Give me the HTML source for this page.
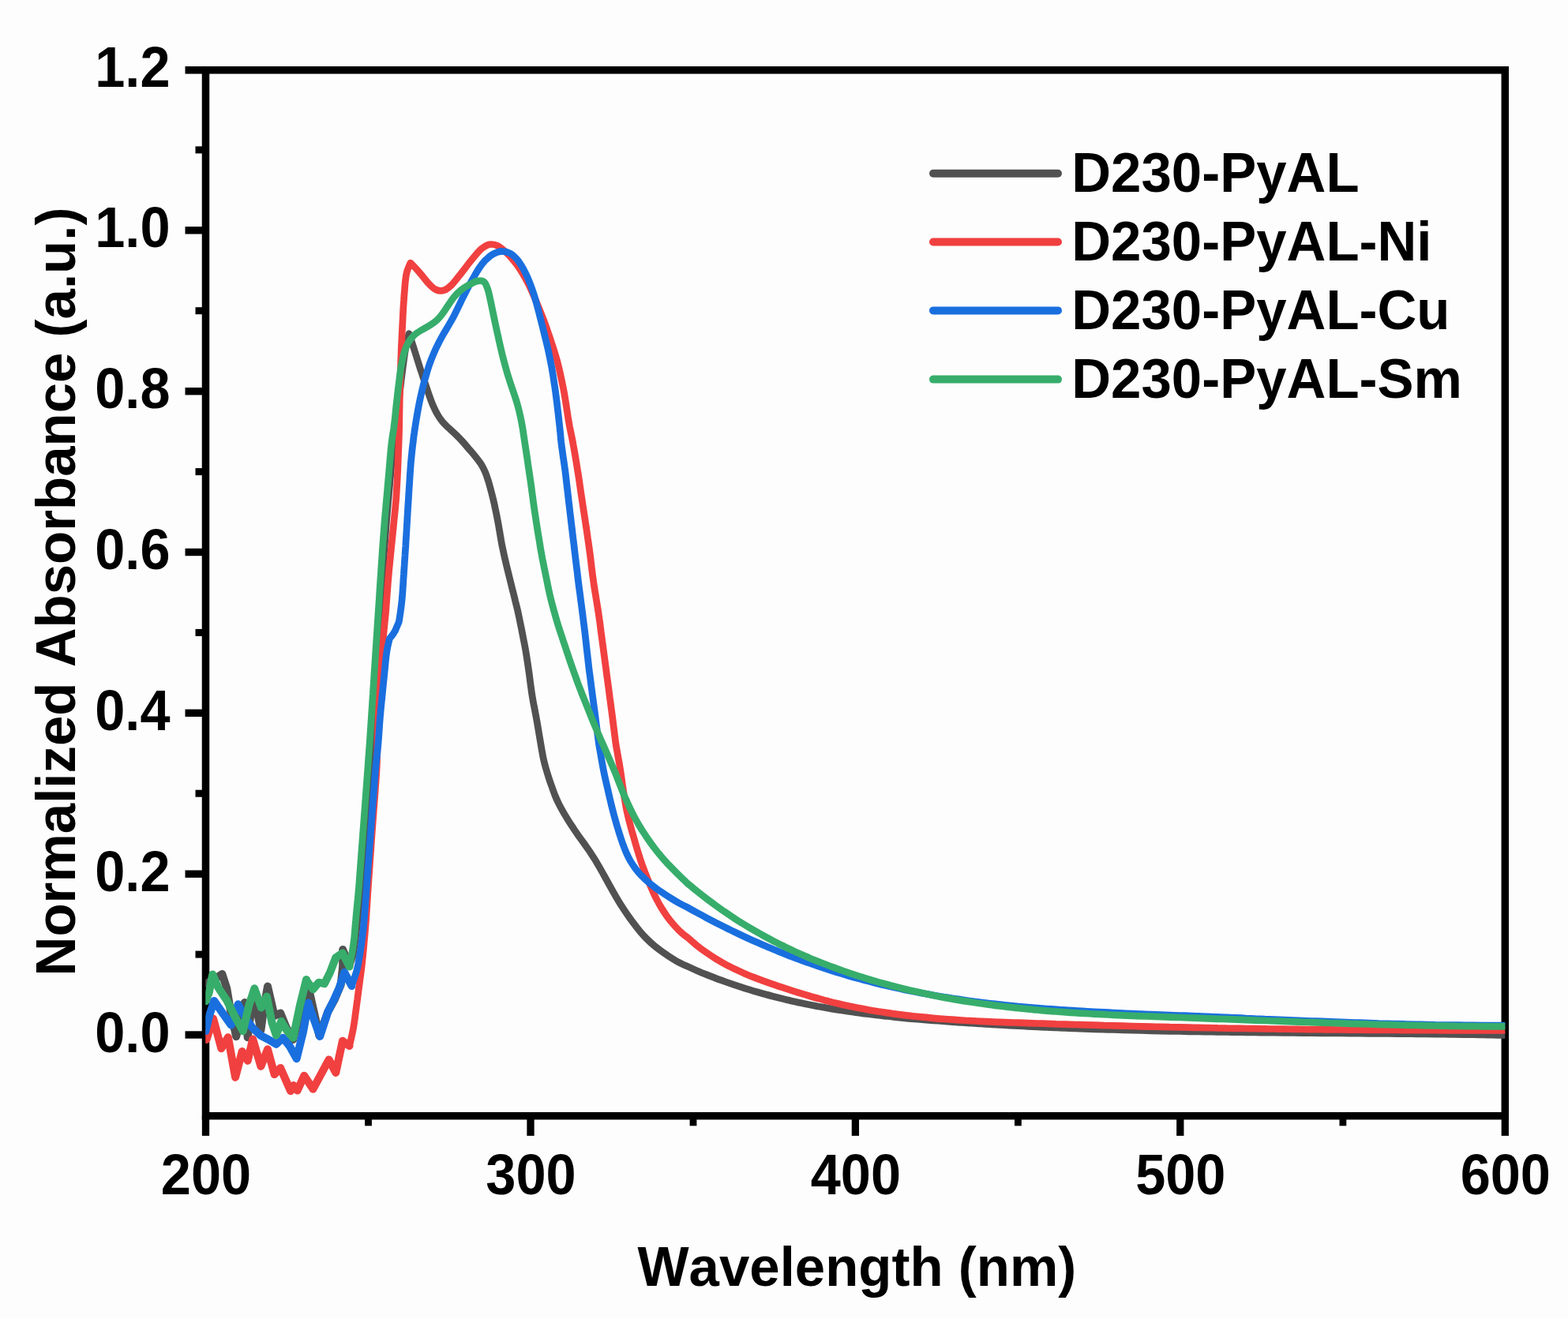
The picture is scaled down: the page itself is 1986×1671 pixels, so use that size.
<!DOCTYPE html>
<html lang="en"><head><meta charset="utf-8"><title>Normalized Absorbance vs Wavelength</title>
<style>html,body{margin:0;padding:0;background:#fdfdfd;}body{width:1986px;height:1671px;overflow:hidden;}svg{display:block;}text{font-family:'Liberation Sans', sans-serif;font-weight:bold;fill:#000;font-kerning:none;}</style></head><body>
<svg width="1986" height="1671" viewBox="0 0 1986 1671" role="img" aria-label="Normalized absorbance versus wavelength for D230-PyAL and its Ni, Cu and Sm complexes">
<rect x="0" y="0" width="1986" height="1671" fill="#fdfdfd"/>
<g stroke="#000" stroke-width="9.5" fill="none" stroke-linecap="butt">
<rect x="260.5" y="88.8" width="1645.8" height="1324.9"/>
<line x1="234.5" y1="1311.0" x2="260.5" y2="1311.0" stroke-width="9.4"/>
<line x1="234.5" y1="1107.2" x2="260.5" y2="1107.2" stroke-width="9.4"/>
<line x1="234.5" y1="903.3" x2="260.5" y2="903.3" stroke-width="9.4"/>
<line x1="234.5" y1="699.5" x2="260.5" y2="699.5" stroke-width="9.4"/>
<line x1="234.5" y1="495.7" x2="260.5" y2="495.7" stroke-width="9.4"/>
<line x1="234.5" y1="291.8" x2="260.5" y2="291.8" stroke-width="9.4"/>
<line x1="234.5" y1="88.8" x2="260.5" y2="88.8"/>
<line x1="247.5" y1="1209.1" x2="260.5" y2="1209.1" stroke-width="9"/>
<line x1="247.5" y1="1005.2" x2="260.5" y2="1005.2" stroke-width="9"/>
<line x1="247.5" y1="801.4" x2="260.5" y2="801.4" stroke-width="9"/>
<line x1="247.5" y1="597.6" x2="260.5" y2="597.6" stroke-width="9"/>
<line x1="247.5" y1="393.7" x2="260.5" y2="393.7" stroke-width="9"/>
<line x1="247.5" y1="189.9" x2="260.5" y2="189.9" stroke-width="9"/>
<line x1="260.5" y1="1413.7" x2="260.5" y2="1438.9" stroke-width="9.3"/>
<line x1="672.0" y1="1413.7" x2="672.0" y2="1438.9" stroke-width="9.3"/>
<line x1="1083.4" y1="1413.7" x2="1083.4" y2="1438.9" stroke-width="9.3"/>
<line x1="1494.8" y1="1413.7" x2="1494.8" y2="1438.9" stroke-width="9.3"/>
<line x1="1906.3" y1="1413.7" x2="1906.3" y2="1438.9" stroke-width="9.3"/>
<line x1="466.5" y1="1413.7" x2="466.5" y2="1426.3" stroke-width="8.8"/>
<line x1="878.0" y1="1413.7" x2="878.0" y2="1426.3" stroke-width="8.8"/>
<line x1="1289.4" y1="1413.7" x2="1289.4" y2="1426.3" stroke-width="8.8"/>
<line x1="1700.9" y1="1413.7" x2="1700.9" y2="1426.3" stroke-width="8.8"/>
</g>
<defs><clipPath id="plotclip"><rect x="260.5" y="88.8" width="1645.8" height="1324.9"/></clipPath></defs>
<g clip-path="url(#plotclip)" fill="none" stroke-linejoin="round" stroke-linecap="round" stroke-width="8.7">
<path stroke="#515151" d="M261.5 1245.8L273.3 1239.4L281.4 1234.0L287.3 1252.3L292.7 1284.6L299.2 1313.2L304.5 1290.0L309.9 1270.1L313.7 1314.2L317.5 1284.6L322.6 1265.8L330.4 1305.1L334.7 1273.8L339.0 1249.6L347.6 1286.8L355.2 1283.5L362.7 1301.8L371.3 1316.9L382.1 1276.0L392.2 1257.6L404.4 1312.2L415.2 1282.1L423.8 1266.3L431.7 1247.6L434.2 1224.6L434.2 1203.1L442.5 1223.2C443.2 1221.3 445.6 1215.9 446.6 1212.1C447.7 1208.3 448.1 1204.3 448.7 1200.4C449.3 1196.5 449.8 1192.5 450.3 1188.5C450.8 1184.5 451.3 1180.6 451.8 1176.6C452.2 1172.6 452.6 1168.6 453.0 1164.7C453.4 1160.7 453.8 1156.7 454.2 1152.7C454.6 1148.7 455.0 1144.8 455.4 1140.8C455.8 1136.8 456.2 1132.8 456.5 1128.8C456.8 1124.8 457.1 1120.8 457.4 1116.9C457.7 1112.9 458.0 1108.9 458.3 1104.9C458.6 1100.9 458.9 1096.9 459.2 1092.9C459.5 1088.9 459.8 1084.9 460.1 1081.0C460.4 1077.0 460.7 1073.0 461.0 1069.0C461.3 1065.0 461.6 1061.0 461.9 1057.0C462.2 1053.0 462.5 1049.0 462.8 1045.1C463.1 1041.1 463.4 1037.1 463.7 1033.1C464.0 1029.1 464.3 1025.1 464.6 1021.1C464.9 1017.1 465.2 1013.1 465.5 1009.2C465.8 1005.2 466.1 1001.2 466.4 997.2C466.7 993.2 467.0 989.2 467.3 985.2C467.6 981.2 467.9 977.2 468.2 973.3C468.5 969.3 468.8 965.3 469.1 961.3C469.4 957.3 469.7 953.3 470.0 949.3C470.3 945.3 470.6 941.3 470.9 937.4C471.1 933.4 471.4 929.4 471.7 925.4C471.9 921.4 472.2 917.4 472.4 913.4C472.7 909.4 473.0 905.4 473.2 901.4C473.5 897.4 473.8 893.5 474.0 889.5C474.3 885.5 474.5 881.5 474.8 877.5C475.1 873.5 475.3 869.5 475.6 865.5C475.9 861.5 476.1 857.5 476.4 853.5C476.6 849.5 476.9 845.6 477.2 841.6C477.4 837.6 477.7 833.6 478.0 829.6C478.2 825.6 478.5 821.6 478.8 817.6C479.0 813.6 479.3 809.6 479.5 805.6C479.8 801.7 480.1 797.7 480.3 793.7C480.6 789.7 480.9 785.7 481.1 781.7C481.4 777.7 481.6 773.7 481.9 769.7C482.2 765.7 482.4 761.7 482.7 757.7C483.0 753.8 483.2 749.8 483.5 745.8C483.7 741.8 484.0 737.8 484.3 733.8C484.5 729.8 484.8 725.8 485.1 721.8C485.3 717.8 485.6 713.8 485.9 709.9C486.1 705.9 486.4 701.9 486.7 697.9C487.0 693.9 487.3 689.9 487.6 685.9C487.9 681.9 488.2 677.9 488.5 673.9C488.8 670.0 489.1 666.0 489.4 662.0C489.7 658.0 490.0 654.0 490.4 650.0C490.7 646.0 491.1 642.1 491.4 638.1C491.8 634.1 492.2 630.1 492.5 626.1C492.9 622.1 493.2 618.2 493.6 614.2C493.9 610.2 494.3 606.2 494.6 602.2C495.0 598.2 495.3 594.2 495.7 590.3C496.0 586.3 496.3 582.3 496.7 578.3C497.0 574.3 497.3 570.3 497.8 566.4C498.2 562.4 498.8 558.4 499.3 554.5C499.9 550.5 500.8 546.6 501.3 542.7C501.9 538.7 502.4 534.7 502.9 530.8C503.3 526.8 503.7 522.8 504.1 518.8C504.5 514.8 504.9 510.9 505.3 506.9C505.7 502.9 506.2 498.9 506.6 495.0C507.1 491.0 507.6 487.0 508.0 483.0C508.5 479.1 509.0 475.1 509.5 471.1C510.0 467.2 510.5 463.2 511.1 459.2C511.6 455.3 512.1 451.3 512.7 447.4C513.4 443.4 514.0 439.2 514.8 435.6C515.5 431.9 516.7 427.6 517.3 425.5C517.8 423.3 518.0 423.2 518.1 422.7C518.7 424.6 520.6 430.3 521.9 434.1C523.1 437.9 524.3 441.7 525.5 445.5C526.7 449.4 527.9 453.2 529.1 457.0C530.3 460.8 531.5 464.6 532.7 468.4C534.0 472.2 535.3 476.0 536.5 479.8C537.8 483.6 539.0 487.4 540.3 491.2C541.6 495.0 542.8 498.8 544.2 502.6C545.5 506.3 546.9 510.1 548.5 513.7C550.1 517.4 551.8 521.1 553.8 524.5C555.7 527.9 557.9 531.3 560.4 534.3C562.9 537.4 566.0 540.0 568.8 542.7C571.7 545.5 574.9 548.0 577.7 550.8C580.6 553.6 583.3 556.5 586.0 559.5C588.7 562.4 591.2 565.5 593.8 568.6C596.4 571.6 599.1 574.6 601.6 577.7C604.1 580.8 606.7 583.9 608.8 587.2C610.9 590.6 612.8 594.1 614.4 597.7C616.0 601.3 617.1 605.2 618.4 609.0C619.6 612.8 620.6 616.7 621.6 620.5C622.7 624.4 623.6 628.3 624.6 632.2C625.5 636.0 626.4 639.9 627.2 643.9C628.1 647.8 628.8 651.7 629.6 655.6C630.4 659.5 631.1 663.5 631.8 667.4C632.5 671.4 633.1 675.3 633.8 679.2C634.5 683.2 635.1 687.1 635.9 691.1C636.7 695.0 637.6 698.9 638.4 702.8C639.3 706.7 640.2 710.6 641.1 714.5C642.0 718.4 643.0 722.3 643.9 726.1C644.9 730.0 645.8 733.9 646.8 737.8C647.8 741.7 648.7 745.6 649.7 749.4C650.7 753.3 651.7 757.2 652.6 761.1C653.6 765.0 654.6 768.8 655.5 772.7C656.4 776.6 657.2 780.5 658.0 784.5C658.8 788.4 659.6 792.3 660.4 796.2C661.2 800.1 661.9 804.1 662.7 808.0C663.5 811.9 664.3 815.8 665.0 819.8C665.7 823.7 666.4 827.6 667.0 831.6C667.6 835.5 668.2 839.5 668.8 843.5C669.4 847.4 669.9 851.4 670.5 855.3C671.0 859.3 671.5 863.3 672.0 867.2C672.6 871.2 673.1 875.2 673.7 879.1C674.3 883.1 675.0 887.0 675.7 890.9C676.5 894.9 677.3 898.8 678.0 902.7C678.8 906.7 679.5 910.6 680.2 914.5C680.9 918.5 681.5 922.4 682.2 926.4C682.8 930.3 683.5 934.3 684.2 938.2C684.8 942.1 685.5 946.1 686.2 950.0C686.9 954.0 687.5 957.9 688.4 961.8C689.3 965.7 690.3 969.6 691.4 973.4C692.5 977.2 693.7 981.1 694.9 984.9C696.1 988.7 697.4 992.5 698.8 996.2C700.1 1000.0 701.4 1003.8 702.9 1007.5C704.4 1011.2 706.0 1014.8 707.8 1018.4C709.6 1022.0 711.5 1025.5 713.5 1028.9C715.5 1032.4 717.6 1035.8 719.7 1039.2C721.8 1042.6 724.0 1045.9 726.3 1049.3C728.5 1052.6 730.7 1055.9 733.0 1059.2C735.3 1062.4 737.7 1065.7 740.0 1068.9C742.3 1072.2 744.7 1075.4 746.9 1078.7C749.1 1082.1 751.3 1085.4 753.4 1088.8C755.5 1092.2 757.5 1095.7 759.5 1099.1C761.5 1102.6 763.5 1106.1 765.4 1109.6C767.4 1113.1 769.3 1116.6 771.2 1120.1C773.2 1123.6 775.1 1127.1 777.1 1130.6C779.0 1134.0 781.0 1137.5 783.1 1141.0C785.1 1144.4 787.3 1147.8 789.5 1151.1C791.6 1154.4 793.9 1157.7 796.2 1161.0C798.5 1164.3 800.9 1167.5 803.3 1170.7C805.7 1173.9 808.1 1177.1 810.7 1180.1C813.3 1183.2 815.9 1186.2 818.8 1189.0C821.6 1191.8 824.5 1194.5 827.6 1197.1C830.6 1199.7 833.8 1202.1 837.0 1204.5C840.2 1206.9 843.5 1209.1 846.8 1211.3C850.2 1213.5 853.6 1215.8 857.0 1217.7C860.3 1219.6 864.7 1221.6 866.9 1222.7C869.0 1223.7 869.5 1223.7 870.0 1223.9C872.0 1224.8 878.0 1227.6 882.0 1229.4C886.0 1231.1 890.0 1232.8 894.0 1234.4C898.0 1236.0 902.0 1237.6 906.0 1239.1C910.0 1240.6 914.0 1242.1 918.0 1243.5C922.0 1244.9 926.0 1246.3 930.0 1247.7C934.0 1249.0 938.0 1250.3 942.0 1251.6C946.0 1252.9 950.0 1254.1 954.0 1255.3C958.0 1256.5 962.0 1257.6 966.0 1258.8C970.0 1259.9 974.0 1261.0 978.0 1262.0C982.0 1263.1 986.0 1264.1 990.0 1265.0C994.0 1266.0 998.0 1267.0 1002.0 1267.9C1006.0 1268.8 1010.0 1269.7 1014.0 1270.5C1018.0 1271.4 1022.0 1272.2 1026.0 1273.0C1030.0 1273.8 1034.0 1274.6 1038.0 1275.3C1042.0 1276.0 1046.0 1276.7 1050.0 1277.4C1054.0 1278.1 1058.0 1278.8 1062.0 1279.4C1066.0 1280.0 1070.0 1280.7 1074.0 1281.2C1078.0 1281.8 1082.0 1282.4 1086.0 1282.9C1090.0 1283.5 1094.0 1284.0 1098.0 1284.5C1102.0 1285.0 1106.0 1285.5 1110.0 1286.0C1114.0 1286.5 1118.0 1286.9 1122.0 1287.3C1126.0 1287.8 1130.0 1288.2 1134.0 1288.6C1138.0 1289.0 1142.0 1289.4 1146.0 1289.8C1150.0 1290.1 1154.0 1290.5 1158.0 1290.9C1162.0 1291.2 1166.0 1291.5 1170.0 1291.9C1174.0 1292.2 1178.0 1292.5 1182.0 1292.8C1186.0 1293.1 1190.0 1293.4 1194.0 1293.7C1198.0 1294.0 1202.0 1294.3 1206.0 1294.6C1210.0 1294.9 1214.0 1295.2 1218.0 1295.4C1222.0 1295.7 1226.0 1296.0 1230.0 1296.2C1234.0 1296.5 1238.0 1296.8 1242.0 1297.0C1246.0 1297.2 1250.0 1297.5 1254.0 1297.7C1258.0 1298.0 1262.0 1298.2 1266.0 1298.4C1270.0 1298.6 1274.0 1298.9 1278.0 1299.1C1282.0 1299.3 1286.0 1299.5 1290.0 1299.7C1294.0 1299.9 1298.0 1300.1 1302.0 1300.3C1306.0 1300.5 1310.0 1300.7 1314.0 1300.9C1318.0 1301.1 1322.0 1301.3 1326.0 1301.4C1330.0 1301.6 1334.0 1301.8 1338.0 1301.9C1342.0 1302.1 1346.0 1302.3 1350.0 1302.4C1354.0 1302.6 1358.0 1302.8 1362.0 1302.9C1366.0 1303.1 1370.0 1303.2 1374.0 1303.3C1378.0 1303.5 1382.0 1303.6 1386.0 1303.8C1390.0 1303.9 1394.0 1304.0 1398.0 1304.1C1402.0 1304.3 1406.0 1304.4 1410.0 1304.5C1414.0 1304.6 1418.0 1304.7 1422.0 1304.9C1426.0 1305.0 1430.0 1305.1 1434.0 1305.2C1438.0 1305.3 1442.0 1305.4 1446.0 1305.5C1450.0 1305.6 1454.0 1305.7 1458.0 1305.8C1462.0 1305.9 1466.0 1306.0 1470.0 1306.1C1474.0 1306.1 1478.0 1306.2 1482.0 1306.3C1486.0 1306.4 1490.0 1306.5 1494.0 1306.5C1498.0 1306.6 1502.0 1306.7 1506.0 1306.8C1510.0 1306.8 1514.0 1306.9 1518.0 1307.0C1522.0 1307.0 1526.0 1307.1 1530.0 1307.2C1534.0 1307.2 1538.0 1307.3 1542.0 1307.3C1546.0 1307.4 1550.0 1307.5 1554.0 1307.5C1558.0 1307.6 1562.0 1307.6 1566.0 1307.7C1570.0 1307.7 1574.0 1307.8 1578.0 1307.8C1582.0 1307.9 1586.0 1307.9 1590.0 1308.0C1594.0 1308.0 1598.0 1308.1 1602.0 1308.1C1606.0 1308.1 1610.0 1308.2 1614.0 1308.2C1618.0 1308.3 1622.0 1308.3 1626.0 1308.3C1630.0 1308.4 1634.0 1308.4 1638.0 1308.5C1642.0 1308.5 1646.0 1308.5 1650.0 1308.6C1654.0 1308.6 1658.0 1308.6 1662.0 1308.7C1666.0 1308.7 1670.0 1308.7 1674.0 1308.8C1678.0 1308.8 1682.0 1308.8 1686.0 1308.9C1690.0 1308.9 1694.0 1308.9 1698.0 1309.0C1702.0 1309.0 1706.0 1309.0 1710.0 1309.1C1714.0 1309.1 1718.0 1309.1 1722.0 1309.2C1726.0 1309.2 1730.0 1309.2 1734.0 1309.3C1738.0 1309.3 1742.0 1309.3 1746.0 1309.4C1750.0 1309.4 1754.0 1309.4 1758.0 1309.5C1762.0 1309.5 1766.0 1309.5 1770.0 1309.6C1774.0 1309.6 1778.0 1309.7 1782.0 1309.7C1786.0 1309.7 1790.0 1309.8 1794.0 1309.8C1798.0 1309.9 1802.0 1309.9 1806.0 1310.0C1810.0 1310.0 1814.0 1310.0 1818.0 1310.1C1822.0 1310.1 1826.0 1310.2 1830.0 1310.2C1834.0 1310.3 1838.0 1310.3 1842.0 1310.4C1846.0 1310.4 1850.0 1310.5 1854.0 1310.6C1858.0 1310.6 1862.0 1310.7 1866.0 1310.7C1870.0 1310.8 1874.0 1310.9 1878.0 1310.9C1882.0 1311.0 1886.0 1311.1 1890.0 1311.1C1894.0 1311.2 1898.7 1311.3 1902.0 1311.3C1905.3 1311.4 1908.7 1311.5 1910.0 1311.5"/>
<path stroke="#515151" stroke-width="10.0" d="M261.5 1245.8L273.3 1239.4L281.4 1234.0L287.3 1252.3L292.7 1284.6L299.2 1313.2L304.5 1290.0L309.9 1270.1L313.7 1314.2L317.5 1284.6L322.6 1265.8L330.4 1305.1L334.7 1273.8L339.0 1249.6L347.6 1286.8L355.2 1283.5L362.7 1301.8L371.3 1316.9L382.1 1276.0L392.2 1257.6L404.4 1312.2L415.2 1282.1L423.8 1266.3L431.7 1247.6L434.2 1224.6L434.2 1203.1L442.5 1223.2"/>
<path stroke="#F14040" d="M261.5 1316.9L270.1 1290.5L280.3 1328.2L288.9 1314.2L298.1 1364.8L306.7 1332.0L313.7 1343.8L320.2 1316.4L330.4 1350.8L339.0 1329.3L347.6 1361.1L355.2 1353.0L368.1 1382.1L371.8 1375.1L376.7 1381.5L385.3 1362.7L396.5 1379.7L416.6 1342.4L425.3 1358.9L433.9 1318.7L442.5 1325.1C443.0 1323.2 444.4 1317.4 445.3 1313.5C446.1 1309.6 447.0 1305.7 447.7 1301.7C448.4 1297.8 448.9 1293.8 449.5 1289.9C450.0 1285.9 450.5 1281.9 451.1 1278.0C451.6 1274.0 452.1 1270.0 452.7 1266.1C453.2 1262.1 453.7 1258.1 454.2 1254.2C454.8 1250.2 455.3 1246.2 455.8 1242.3C456.3 1238.3 456.9 1234.3 457.4 1230.4C457.9 1226.4 458.4 1222.4 458.8 1218.5C459.2 1214.5 459.6 1210.5 460.0 1206.5C460.4 1202.5 460.8 1198.6 461.1 1194.6C461.5 1190.6 461.8 1186.6 462.2 1182.6C462.5 1178.6 462.9 1174.7 463.2 1170.7C463.5 1166.7 463.8 1162.7 464.1 1158.7C464.3 1154.7 464.6 1150.7 464.9 1146.7C465.1 1142.7 465.4 1138.7 465.6 1134.8C465.9 1130.8 466.2 1126.8 466.4 1122.8C466.7 1118.8 467.0 1114.8 467.2 1110.8C467.5 1106.8 467.8 1102.8 468.1 1098.8C468.4 1094.8 468.6 1090.9 468.9 1086.9C469.2 1082.9 469.5 1078.9 469.8 1074.9C470.0 1070.9 470.3 1066.9 470.6 1062.9C470.9 1058.9 471.2 1055.0 471.5 1051.0C471.8 1047.0 472.1 1043.0 472.4 1039.0C472.7 1035.0 473.0 1031.0 473.3 1027.0C473.6 1023.0 473.9 1019.1 474.2 1015.1C474.5 1011.1 474.8 1007.1 475.1 1003.1C475.4 999.1 475.7 995.1 476.0 991.1C476.3 987.1 476.6 983.2 476.8 979.2C477.1 975.2 477.2 971.2 477.4 967.2C477.5 963.2 477.6 959.2 477.7 955.2C477.8 951.2 477.9 947.2 478.0 943.2C478.1 939.2 478.2 935.2 478.3 931.2C478.5 927.2 478.6 923.2 478.7 919.2C478.8 915.2 478.9 911.2 479.0 907.2C479.1 903.2 479.2 899.2 479.3 895.2C479.4 891.2 479.5 887.2 479.6 883.2C479.7 879.2 479.8 875.2 480.0 871.2C480.1 867.2 480.2 863.2 480.5 859.2C480.7 855.2 481.1 851.3 481.5 847.3C481.8 843.3 482.3 839.3 482.7 835.3C483.1 831.4 483.5 827.4 483.9 823.4C484.3 819.4 484.6 815.4 485.0 811.5C485.4 807.5 485.8 803.5 486.2 799.5C486.6 795.5 487.0 791.6 487.4 787.6C487.8 783.6 488.2 779.6 488.6 775.6C488.9 771.6 489.2 767.7 489.5 763.7C489.8 759.7 490.1 755.7 490.4 751.7C490.7 747.7 491.0 743.7 491.3 739.7C491.6 735.7 491.9 731.8 492.3 727.8C492.6 723.8 493.0 719.8 493.4 715.8C493.8 711.8 494.2 707.9 494.6 703.9C495.0 699.9 495.4 695.9 495.8 691.9C496.2 688.0 496.6 684.0 497.0 680.0C497.4 676.0 497.8 672.0 498.2 668.1C498.6 664.1 499.0 660.1 499.4 656.1C499.8 652.1 500.2 648.2 500.6 644.2C501.0 640.2 501.3 636.2 501.7 632.2C502.0 628.2 502.2 624.3 502.4 620.3C502.7 616.3 502.9 612.3 503.1 608.3C503.3 604.3 503.5 600.3 503.7 596.3C503.9 592.3 504.0 588.3 504.2 584.3C504.3 580.3 504.5 576.3 504.6 572.3C504.8 568.3 505.0 564.3 505.1 560.3C505.2 556.3 505.4 552.3 505.5 548.3C505.6 544.3 505.7 540.3 505.7 536.3C505.8 532.3 505.9 528.3 505.9 524.3C506.0 520.3 506.1 516.3 506.1 512.3C506.2 508.3 506.3 504.3 506.4 500.3C506.4 496.3 506.6 492.3 506.7 488.3C506.8 484.3 506.9 480.3 507.1 476.3C507.2 472.4 507.3 468.4 507.5 464.4C507.6 460.4 507.7 456.4 507.9 452.4C508.0 448.4 508.2 444.4 508.3 440.4C508.5 436.4 508.7 432.4 508.9 428.4C509.1 424.4 509.3 420.4 509.5 416.4C509.7 412.4 509.9 408.4 510.1 404.4C510.3 400.4 510.5 396.4 510.7 392.4C510.9 388.4 511.2 384.4 511.5 380.5C511.7 376.5 512.0 372.5 512.4 368.5C512.7 364.5 512.9 360.5 513.4 356.5C513.9 352.6 514.2 348.6 515.3 344.7C516.4 340.8 519.1 334.9 519.9 333.0C521.3 334.4 525.5 338.6 528.2 341.6C530.9 344.6 533.3 347.7 535.9 350.8C538.5 353.8 540.8 357.2 543.6 359.9C546.3 362.7 549.3 365.8 552.5 367.1C555.7 368.4 559.4 368.7 562.6 367.7C565.9 366.7 569.0 363.8 571.8 361.2C574.6 358.6 577.0 355.2 579.5 352.1C582.0 349.0 584.5 345.8 586.9 342.6C589.3 339.5 591.7 336.3 594.2 333.1C596.7 330.0 599.1 326.8 601.8 323.8C604.4 320.8 607.0 317.5 609.9 315.2C612.9 312.8 616.3 310.4 619.6 309.7C623.0 309.1 626.7 309.9 630.0 311.3C633.3 312.7 636.4 315.8 639.4 318.3C642.3 320.9 645.1 323.9 647.8 326.8C650.4 329.8 653.0 332.9 655.3 336.1C657.7 339.4 659.8 342.7 661.9 346.2C663.9 349.6 665.8 353.1 667.7 356.6C669.5 360.2 671.3 363.8 672.9 367.4C674.6 371.1 676.1 374.8 677.7 378.4C679.2 382.1 680.7 385.8 682.2 389.5C683.7 393.2 685.3 396.9 686.7 400.7C688.2 404.4 689.6 408.1 691.0 411.9C692.4 415.6 693.6 419.4 694.9 423.2C696.2 427.0 697.5 430.8 698.7 434.6C700.0 438.4 701.2 442.2 702.4 446.0C703.5 449.8 704.7 453.7 705.8 457.5C706.8 461.4 707.8 465.3 708.7 469.2C709.6 473.1 710.4 477.0 711.2 480.9C712.0 484.8 712.9 488.7 713.6 492.6C714.4 496.6 715.1 500.5 715.7 504.4C716.4 508.4 717.0 512.4 717.6 516.3C718.2 520.3 718.8 524.2 719.4 528.2C720.1 532.1 720.7 536.1 721.4 540.0C722.2 543.9 723.0 547.8 723.8 551.7C724.6 555.7 725.4 559.6 726.1 563.5C726.9 567.4 727.5 571.4 728.2 575.3C728.9 579.3 729.5 583.2 730.2 587.2C730.8 591.1 731.4 595.1 732.1 599.0C732.7 603.0 733.3 606.9 733.9 610.9C734.5 614.8 735.0 618.8 735.6 622.8C736.2 626.7 736.8 630.7 737.4 634.6C738.0 638.6 738.6 642.5 739.2 646.5C739.8 650.4 740.4 654.4 741.0 658.4C741.6 662.3 742.2 666.3 742.8 670.2C743.4 674.2 744.0 678.1 744.5 682.1C745.1 686.0 745.7 690.0 746.2 694.0C746.8 697.9 747.3 701.9 747.8 705.9C748.3 709.8 748.7 713.8 749.2 717.8C749.7 721.7 750.2 725.7 750.7 729.7C751.3 733.6 751.8 737.6 752.4 741.6C753.0 745.5 753.6 749.5 754.3 753.4C754.9 757.4 755.6 761.3 756.2 765.3C756.9 769.2 757.5 773.2 758.1 777.1C758.7 781.1 759.2 785.0 759.8 789.0C760.3 793.0 760.8 796.9 761.3 800.9C761.9 804.9 762.4 808.8 762.9 812.8C763.5 816.7 764.0 820.7 764.5 824.7C765.0 828.6 765.6 832.6 766.1 836.6C766.6 840.5 767.2 844.5 767.7 848.5C768.2 852.4 768.7 856.4 769.3 860.4C769.8 864.3 770.3 868.3 770.9 872.3C771.4 876.2 771.9 880.2 772.4 884.1C773.0 888.1 773.5 892.1 774.0 896.0C774.6 900.0 775.1 904.0 775.6 907.9C776.1 911.9 776.6 915.9 777.1 919.8C777.6 923.8 778.1 927.8 778.6 931.8C779.1 935.7 779.6 939.7 780.2 943.6C780.8 947.6 781.6 951.5 782.3 955.5C782.9 959.4 783.7 963.3 784.4 967.3C785.0 971.2 785.7 975.2 786.3 979.1C786.9 983.1 787.4 987.0 788.0 991.0C788.5 995.0 789.1 998.9 789.7 1002.9C790.3 1006.8 790.9 1010.8 791.6 1014.7C792.2 1018.7 792.9 1022.6 793.7 1026.5C794.5 1030.4 795.5 1034.3 796.4 1038.2C797.4 1042.1 798.4 1045.9 799.5 1049.8C800.5 1053.7 801.7 1057.5 802.8 1061.3C803.9 1065.2 805.0 1069.0 806.1 1072.9C807.3 1076.7 808.4 1080.5 809.6 1084.3C810.8 1088.2 812.1 1091.9 813.4 1095.7C814.8 1099.5 816.2 1103.2 817.6 1107.0C819.1 1110.7 820.5 1114.4 822.1 1118.1C823.6 1121.8 825.2 1125.5 826.8 1129.1C828.5 1132.8 830.1 1136.4 832.0 1139.9C833.8 1143.5 835.8 1147.0 837.9 1150.4C840.0 1153.8 842.2 1157.1 844.5 1160.4C846.8 1163.6 849.3 1166.8 851.8 1169.8C854.4 1172.8 857.2 1176.0 859.9 1178.6C862.5 1181.2 866.0 1184.0 867.7 1185.4C869.4 1186.8 869.6 1186.7 870.0 1187.0C872.0 1188.7 878.0 1194.1 882.0 1197.3C886.0 1200.5 890.0 1203.5 894.0 1206.3C898.0 1209.1 902.0 1211.7 906.0 1214.2C910.0 1216.7 914.0 1219.0 918.0 1221.2C922.0 1223.4 926.0 1225.4 930.0 1227.4C934.0 1229.3 938.0 1231.1 942.0 1232.9C946.0 1234.6 950.0 1236.3 954.0 1237.9C958.0 1239.4 962.0 1240.9 966.0 1242.4C970.0 1243.9 974.0 1245.3 978.0 1246.6C982.0 1248.0 986.0 1249.4 990.0 1250.7C994.0 1252.0 998.0 1253.3 1002.0 1254.6C1006.0 1255.9 1010.0 1257.2 1014.0 1258.4C1018.0 1259.6 1022.0 1260.8 1026.0 1262.0C1030.0 1263.2 1034.0 1264.3 1038.0 1265.4C1042.0 1266.5 1046.0 1267.6 1050.0 1268.6C1054.0 1269.6 1058.0 1270.6 1062.0 1271.5C1066.0 1272.5 1070.0 1273.4 1074.0 1274.2C1078.0 1275.1 1082.0 1275.9 1086.0 1276.7C1090.0 1277.5 1094.0 1278.2 1098.0 1279.0C1102.0 1279.7 1106.0 1280.4 1110.0 1281.0C1114.0 1281.7 1118.0 1282.3 1122.0 1282.9C1126.0 1283.5 1130.0 1284.1 1134.0 1284.6C1138.0 1285.1 1142.0 1285.6 1146.0 1286.1C1150.0 1286.6 1154.0 1287.1 1158.0 1287.5C1162.0 1287.9 1166.0 1288.3 1170.0 1288.7C1174.0 1289.1 1178.0 1289.5 1182.0 1289.8C1186.0 1290.2 1190.0 1290.5 1194.0 1290.8C1198.0 1291.1 1202.0 1291.4 1206.0 1291.7C1210.0 1292.0 1214.0 1292.2 1218.0 1292.5C1222.0 1292.7 1226.0 1292.9 1230.0 1293.2C1234.0 1293.4 1238.0 1293.6 1242.0 1293.8C1246.0 1294.0 1250.0 1294.1 1254.0 1294.3C1258.0 1294.5 1262.0 1294.7 1266.0 1294.8C1270.0 1295.0 1274.0 1295.1 1278.0 1295.3C1282.0 1295.4 1286.0 1295.6 1290.0 1295.7C1294.0 1295.8 1298.0 1296.0 1302.0 1296.1C1306.0 1296.2 1310.0 1296.4 1314.0 1296.5C1318.0 1296.6 1322.0 1296.8 1326.0 1296.9C1330.0 1297.0 1334.0 1297.1 1338.0 1297.3C1342.0 1297.4 1346.0 1297.5 1350.0 1297.6C1354.0 1297.8 1358.0 1297.9 1362.0 1298.0C1366.0 1298.1 1370.0 1298.3 1374.0 1298.4C1378.0 1298.5 1382.0 1298.6 1386.0 1298.7C1390.0 1298.8 1394.0 1298.9 1398.0 1299.1C1402.0 1299.2 1406.0 1299.3 1410.0 1299.4C1414.0 1299.5 1418.0 1299.6 1422.0 1299.7C1426.0 1299.8 1430.0 1299.9 1434.0 1300.0C1438.0 1300.1 1442.0 1300.2 1446.0 1300.3C1450.0 1300.4 1454.0 1300.5 1458.0 1300.6C1462.0 1300.7 1466.0 1300.8 1470.0 1300.9C1474.0 1301.0 1478.0 1301.1 1482.0 1301.2C1486.0 1301.2 1490.0 1301.3 1494.0 1301.4C1498.0 1301.5 1502.0 1301.6 1506.0 1301.7C1510.0 1301.8 1514.0 1301.8 1518.0 1301.9C1522.0 1302.0 1526.0 1302.1 1530.0 1302.1C1534.0 1302.2 1538.0 1302.3 1542.0 1302.4C1546.0 1302.4 1550.0 1302.5 1554.0 1302.6C1558.0 1302.6 1562.0 1302.7 1566.0 1302.8C1570.0 1302.9 1574.0 1302.9 1578.0 1303.0C1582.0 1303.0 1586.0 1303.1 1590.0 1303.2C1594.0 1303.2 1598.0 1303.3 1602.0 1303.3C1606.0 1303.4 1610.0 1303.5 1614.0 1303.5C1618.0 1303.6 1622.0 1303.6 1626.0 1303.7C1630.0 1303.7 1634.0 1303.8 1638.0 1303.8C1642.0 1303.9 1646.0 1303.9 1650.0 1304.0C1654.0 1304.0 1658.0 1304.1 1662.0 1304.1C1666.0 1304.2 1670.0 1304.2 1674.0 1304.2C1678.0 1304.3 1682.0 1304.3 1686.0 1304.4C1690.0 1304.4 1694.0 1304.4 1698.0 1304.5C1702.0 1304.5 1706.0 1304.5 1710.0 1304.6C1714.0 1304.6 1718.0 1304.6 1722.0 1304.7C1726.0 1304.7 1730.0 1304.7 1734.0 1304.8C1738.0 1304.8 1742.0 1304.8 1746.0 1304.9C1750.0 1304.9 1754.0 1304.9 1758.0 1304.9C1762.0 1305.0 1766.0 1305.0 1770.0 1305.0C1774.0 1305.0 1778.0 1305.1 1782.0 1305.1C1786.0 1305.1 1790.0 1305.1 1794.0 1305.1C1798.0 1305.2 1802.0 1305.2 1806.0 1305.2C1810.0 1305.2 1814.0 1305.2 1818.0 1305.2C1822.0 1305.3 1826.0 1305.3 1830.0 1305.3C1834.0 1305.3 1838.0 1305.3 1842.0 1305.3C1846.0 1305.3 1850.0 1305.3 1854.0 1305.4C1858.0 1305.4 1862.0 1305.4 1866.0 1305.4C1870.0 1305.4 1874.0 1305.4 1878.0 1305.4C1882.0 1305.4 1886.0 1305.4 1890.0 1305.4C1894.0 1305.4 1898.7 1305.4 1902.0 1305.4C1905.3 1305.4 1908.7 1305.4 1910.0 1305.4"/>
<path stroke="#F14040" stroke-width="10.0" d="M261.5 1316.9L270.1 1290.5L280.3 1328.2L288.9 1314.2L298.1 1364.8L306.7 1332.0L313.7 1343.8L320.2 1316.4L330.4 1350.8L339.0 1329.3L347.6 1361.1L355.2 1353.0L368.1 1382.1L371.8 1375.1L376.7 1381.5L385.3 1362.7L396.5 1379.7L416.6 1342.4L425.3 1358.9L433.9 1318.7L442.5 1325.1"/>
<path stroke="#1A6FDF" d="M260.4 1306.2L265.1 1286.8L271.2 1267.9L282.4 1284.1L292.7 1298.6L301.6 1272.3L311.0 1290.0L319.6 1301.8L330.4 1312.1L340.1 1316.9L349.8 1322.8L358.4 1314.8L367.0 1325.5L375.6 1341.2L384.2 1306.2L390.7 1270.6L390.8 1272.0L405.2 1312.9L415.2 1282.1L422.4 1267.7L429.6 1251.9L436.2 1231.8L445.4 1249.0C446.0 1247.1 448.1 1241.5 449.3 1237.7C450.6 1233.9 451.8 1230.1 452.7 1226.2C453.6 1222.4 454.2 1218.4 454.9 1214.5C455.6 1210.5 456.2 1206.6 456.8 1202.6C457.4 1198.7 458.0 1194.7 458.5 1190.7C459.0 1186.8 459.5 1182.8 459.9 1178.8C460.4 1174.8 460.7 1170.9 461.1 1166.9C461.5 1162.9 461.7 1158.9 462.1 1154.9C462.4 1150.9 462.7 1146.9 463.0 1143.0C463.3 1139.0 463.6 1135.0 463.9 1131.0C464.1 1127.0 464.4 1123.0 464.7 1119.0C465.0 1115.0 465.3 1111.0 465.6 1107.1C465.9 1103.1 466.2 1099.1 466.5 1095.1C466.8 1091.1 467.1 1087.1 467.4 1083.1C467.7 1079.1 468.0 1075.1 468.3 1071.2C468.6 1067.2 468.9 1063.2 469.2 1059.2C469.5 1055.2 469.8 1051.2 470.1 1047.2C470.4 1043.2 470.7 1039.2 471.0 1035.3C471.3 1031.3 471.6 1027.3 471.9 1023.3C472.2 1019.3 472.5 1015.3 472.8 1011.3C473.1 1007.3 473.4 1003.3 473.7 999.4C474.0 995.4 474.3 991.4 474.6 987.4C474.9 983.4 475.3 979.4 475.6 975.4C476.0 971.5 476.4 967.5 476.8 963.5C477.3 959.5 477.7 955.5 478.1 951.6C478.5 947.6 478.9 943.6 479.2 939.6C479.6 935.6 479.8 931.6 480.1 927.7C480.4 923.7 480.6 919.7 480.9 915.7C481.2 911.7 481.5 907.7 481.9 903.7C482.2 899.7 482.6 895.8 483.0 891.8C483.4 887.8 483.8 883.8 484.2 879.8C484.6 875.9 485.0 871.9 485.4 867.9C485.8 863.9 486.2 859.9 486.6 856.0C487.0 852.0 487.4 848.0 487.8 844.0C488.2 840.0 488.5 836.0 489.0 832.1C489.5 828.1 490.1 824.1 490.8 820.3C491.6 816.4 493.0 810.8 493.4 809.0C494.1 808.2 496.1 805.9 497.2 804.3C498.4 802.7 499.4 801.0 500.4 799.3C501.3 797.5 502.0 795.5 502.7 793.8C503.5 792.1 504.3 790.0 504.8 789.0C505.2 787.9 505.3 787.7 505.4 787.4C505.7 785.4 506.6 779.5 507.2 775.5C507.7 771.6 508.3 767.6 508.7 763.7C509.2 759.7 509.5 755.7 509.8 751.7C510.1 747.7 510.3 743.7 510.6 739.7C510.8 735.7 511.1 731.7 511.4 727.8C511.6 723.8 511.9 719.8 512.2 715.8C512.4 711.8 512.7 707.8 513.0 703.8C513.2 699.8 513.5 695.8 513.8 691.8C514.0 687.8 514.2 683.8 514.5 679.9C514.7 675.9 515.0 671.9 515.2 667.9C515.4 663.9 515.7 659.9 515.9 655.9C516.2 651.9 516.4 647.9 516.6 643.9C516.9 639.9 517.1 635.9 517.4 631.9C517.6 628.0 517.8 624.0 518.1 620.0C518.4 616.0 518.6 612.0 518.9 608.0C519.1 604.0 519.4 600.0 519.7 596.0C520.0 592.0 520.2 588.0 520.6 584.1C521.0 580.1 521.4 576.1 521.8 572.1C522.2 568.1 522.7 564.2 523.2 560.2C523.6 556.2 524.1 552.3 524.7 548.3C525.2 544.3 525.9 540.4 526.5 536.4C527.1 532.5 527.8 528.5 528.5 524.6C529.1 520.7 529.8 516.7 530.6 512.8C531.4 508.9 532.2 505.0 533.1 501.1C534.0 497.2 534.9 493.3 535.8 489.4C536.8 485.5 537.9 481.6 539.0 477.8C540.1 474.0 541.2 470.1 542.4 466.3C543.6 462.5 544.9 458.7 546.4 455.0C547.8 451.3 549.4 447.6 551.0 443.9C552.7 440.3 554.4 436.7 556.2 433.2C558.1 429.6 560.0 426.1 562.0 422.6C564.0 419.2 566.1 415.8 568.1 412.3C570.1 408.8 572.2 405.4 574.1 401.9C576.0 398.4 577.7 394.8 579.4 391.2C581.2 387.6 582.9 384.0 584.6 380.4C586.4 376.8 588.2 373.2 590.0 369.7C591.8 366.1 593.7 362.6 595.6 359.0C597.5 355.5 599.5 352.0 601.5 348.6C603.5 345.2 605.5 341.6 607.8 338.4C610.1 335.2 612.5 331.9 615.3 329.2C618.0 326.4 621.2 323.7 624.5 321.9C627.9 320.1 631.7 318.6 635.3 318.4C638.9 318.3 642.9 319.3 646.1 321.0C649.4 322.7 652.3 325.7 654.9 328.6C657.5 331.5 659.5 335.0 661.6 338.4C663.6 341.9 665.4 345.5 667.1 349.1C668.8 352.7 670.3 356.4 671.7 360.1C673.2 363.8 674.4 367.6 675.7 371.4C676.9 375.2 678.0 379.1 679.1 382.9C680.2 386.8 681.2 390.6 682.2 394.5C683.2 398.4 684.2 402.3 685.2 406.1C686.2 410.0 687.1 413.9 688.1 417.8C689.1 421.7 690.0 425.5 691.0 429.4C691.9 433.3 692.9 437.2 693.8 441.1C694.6 445.0 695.5 448.9 696.3 452.8C697.1 456.7 697.9 460.7 698.6 464.6C699.3 468.5 700.0 472.5 700.6 476.4C701.2 480.4 701.8 484.3 702.4 488.3C703.0 492.3 703.6 496.2 704.1 500.2C704.6 504.1 705.1 508.1 705.6 512.1C706.0 516.1 706.5 520.0 707.0 524.0C707.4 528.0 707.9 531.9 708.3 535.9C708.8 539.9 709.2 543.9 709.6 547.9C710.0 551.8 710.3 555.8 710.7 559.8C711.2 563.8 711.7 567.7 712.3 571.7C712.8 575.7 713.4 579.6 714.0 583.6C714.6 587.5 715.1 591.5 715.7 595.4C716.2 599.4 716.7 603.4 717.1 607.4C717.6 611.3 718.0 615.3 718.5 619.3C719.0 623.3 719.4 627.2 719.9 631.2C720.3 635.2 720.8 639.1 721.3 643.1C721.7 647.1 722.2 651.1 722.7 655.0C723.1 659.0 723.6 663.0 724.1 666.9C724.6 670.9 725.1 674.9 725.5 678.9C726.0 682.8 726.5 686.8 727.0 690.8C727.4 694.8 727.9 698.7 728.4 702.7C728.9 706.7 729.3 710.6 729.8 714.6C730.3 718.6 730.8 722.6 731.3 726.5C731.7 730.5 732.2 734.5 732.7 738.4C733.2 742.4 733.7 746.4 734.3 750.3C734.8 754.3 735.3 758.3 735.8 762.2C736.4 766.2 736.9 770.2 737.4 774.1C737.9 778.1 738.4 782.1 738.9 786.0C739.4 790.0 739.9 794.0 740.4 797.9C740.9 801.9 741.4 805.9 741.8 809.9C742.3 813.8 742.7 817.8 743.1 821.8C743.6 825.8 744.0 829.7 744.5 833.7C744.9 837.7 745.4 841.7 745.8 845.6C746.3 849.6 746.8 853.6 747.4 857.5C747.9 861.5 748.4 865.5 748.9 869.4C749.5 873.4 750.0 877.4 750.5 881.3C751.0 885.3 751.6 889.3 752.1 893.2C752.6 897.2 753.2 901.1 753.7 905.1C754.2 909.1 754.7 913.0 755.2 917.0C755.7 921.0 756.2 925.0 756.7 928.9C757.2 932.9 757.7 936.9 758.2 940.8C758.8 944.8 759.5 948.7 760.2 952.6C760.9 956.6 761.6 960.5 762.3 964.5C763.0 968.4 763.7 972.3 764.5 976.3C765.3 980.2 766.1 984.1 767.0 988.0C767.8 991.9 768.8 995.8 769.7 999.7C770.6 1003.6 771.5 1007.5 772.4 1011.4C773.3 1015.3 774.2 1019.2 775.2 1023.1C776.1 1026.9 777.2 1030.8 778.2 1034.7C779.3 1038.5 780.4 1042.4 781.5 1046.2C782.7 1050.0 783.8 1053.8 785.0 1057.7C786.3 1061.5 787.4 1065.3 788.8 1069.0C790.2 1072.8 791.6 1076.5 793.2 1080.2C794.8 1083.8 796.5 1087.5 798.5 1090.9C800.5 1094.3 802.8 1097.6 805.2 1100.8C807.6 1104.0 810.2 1107.0 813.0 1109.8C815.7 1112.7 818.7 1115.4 821.7 1118.0C824.7 1120.6 827.9 1123.0 831.1 1125.4C834.4 1127.8 837.7 1130.0 841.0 1132.3C844.3 1134.5 847.7 1136.7 851.1 1138.8C854.4 1140.9 858.0 1143.0 861.2 1144.8C864.3 1146.5 868.5 1148.4 870.0 1149.2C872.0 1150.3 878.0 1153.6 882.0 1155.8C886.0 1158.0 890.0 1160.2 894.0 1162.3C898.0 1164.4 902.0 1166.5 906.0 1168.6C910.0 1170.6 914.0 1172.6 918.0 1174.6C922.0 1176.6 926.0 1178.6 930.0 1180.5C934.0 1182.4 938.0 1184.3 942.0 1186.2C946.0 1188.0 950.0 1189.9 954.0 1191.7C958.0 1193.5 962.0 1195.2 966.0 1197.0C970.0 1198.7 974.0 1200.4 978.0 1202.0C982.0 1203.7 986.0 1205.3 990.0 1206.9C994.0 1208.6 998.0 1210.1 1002.0 1211.7C1006.0 1213.2 1010.0 1214.7 1014.0 1216.2C1018.0 1217.7 1022.0 1219.1 1026.0 1220.5C1030.0 1221.9 1034.0 1223.3 1038.0 1224.7C1042.0 1226.0 1046.0 1227.3 1050.0 1228.6C1054.0 1229.9 1058.0 1231.2 1062.0 1232.4C1066.0 1233.6 1070.0 1234.8 1074.0 1236.0C1078.0 1237.1 1082.0 1238.3 1086.0 1239.4C1090.0 1240.5 1094.0 1241.6 1098.0 1242.6C1102.0 1243.7 1106.0 1244.7 1110.0 1245.7C1114.0 1246.7 1118.0 1247.6 1122.0 1248.6C1126.0 1249.5 1130.0 1250.4 1134.0 1251.3C1138.0 1252.2 1142.0 1253.1 1146.0 1253.9C1150.0 1254.7 1154.0 1255.5 1158.0 1256.3C1162.0 1257.1 1166.0 1257.9 1170.0 1258.6C1174.0 1259.4 1178.0 1260.1 1182.0 1260.8C1186.0 1261.5 1190.0 1262.2 1194.0 1262.8C1198.0 1263.5 1202.0 1264.1 1206.0 1264.7C1210.0 1265.4 1214.0 1265.9 1218.0 1266.5C1222.0 1267.1 1226.0 1267.7 1230.0 1268.2C1234.0 1268.7 1238.0 1269.2 1242.0 1269.7C1246.0 1270.2 1250.0 1270.7 1254.0 1271.2C1258.0 1271.7 1262.0 1272.1 1266.0 1272.6C1270.0 1273.0 1274.0 1273.4 1278.0 1273.8C1282.0 1274.2 1286.0 1274.6 1290.0 1275.0C1294.0 1275.4 1298.0 1275.7 1302.0 1276.1C1306.0 1276.4 1310.0 1276.8 1314.0 1277.1C1318.0 1277.4 1322.0 1277.7 1326.0 1278.0C1330.0 1278.3 1334.0 1278.6 1338.0 1278.9C1342.0 1279.2 1346.0 1279.4 1350.0 1279.7C1354.0 1280.0 1358.0 1280.2 1362.0 1280.4C1366.0 1280.7 1370.0 1280.9 1374.0 1281.1C1378.0 1281.4 1382.0 1281.6 1386.0 1281.8C1390.0 1282.0 1394.0 1282.2 1398.0 1282.4C1402.0 1282.6 1406.0 1282.8 1410.0 1283.0C1414.0 1283.2 1418.0 1283.3 1422.0 1283.5C1426.0 1283.7 1430.0 1283.9 1434.0 1284.0C1438.0 1284.2 1442.0 1284.4 1446.0 1284.5C1450.0 1284.7 1454.0 1284.9 1458.0 1285.0C1462.0 1285.2 1466.0 1285.3 1470.0 1285.5C1474.0 1285.7 1478.0 1285.8 1482.0 1286.0C1486.0 1286.1 1490.0 1286.3 1494.0 1286.5C1498.0 1286.6 1502.0 1286.8 1506.0 1286.9C1510.0 1287.1 1514.0 1287.3 1518.0 1287.4C1522.0 1287.6 1526.0 1287.8 1530.0 1287.9C1534.0 1288.1 1538.0 1288.3 1542.0 1288.4C1546.0 1288.6 1550.0 1288.8 1554.0 1288.9C1558.0 1289.1 1562.0 1289.3 1566.0 1289.4C1570.0 1289.6 1574.0 1289.8 1578.0 1290.0C1582.0 1290.1 1586.0 1290.3 1590.0 1290.5C1594.0 1290.6 1598.0 1290.8 1602.0 1291.0C1606.0 1291.1 1610.0 1291.3 1614.0 1291.5C1618.0 1291.7 1622.0 1291.8 1626.0 1292.0C1630.0 1292.2 1634.0 1292.3 1638.0 1292.5C1642.0 1292.7 1646.0 1292.8 1650.0 1293.0C1654.0 1293.1 1658.0 1293.3 1662.0 1293.5C1666.0 1293.6 1670.0 1293.8 1674.0 1293.9C1678.0 1294.1 1682.0 1294.2 1686.0 1294.4C1690.0 1294.5 1694.0 1294.7 1698.0 1294.8C1702.0 1295.0 1706.0 1295.1 1710.0 1295.3C1714.0 1295.4 1718.0 1295.5 1722.0 1295.7C1726.0 1295.8 1730.0 1296.0 1734.0 1296.1C1738.0 1296.2 1742.0 1296.3 1746.0 1296.5C1750.0 1296.6 1754.0 1296.7 1758.0 1296.8C1762.0 1296.9 1766.0 1297.1 1770.0 1297.2C1774.0 1297.3 1778.0 1297.4 1782.0 1297.5C1786.0 1297.6 1790.0 1297.7 1794.0 1297.8C1798.0 1297.9 1802.0 1297.9 1806.0 1298.0C1810.0 1298.1 1814.0 1298.2 1818.0 1298.3C1822.0 1298.3 1826.0 1298.4 1830.0 1298.5C1834.0 1298.5 1838.0 1298.6 1842.0 1298.6C1846.0 1298.7 1850.0 1298.7 1854.0 1298.8C1858.0 1298.8 1862.0 1298.9 1866.0 1298.9C1870.0 1298.9 1874.0 1298.9 1878.0 1299.0C1882.0 1299.0 1886.0 1299.0 1890.0 1299.0C1894.0 1299.0 1898.7 1299.0 1902.0 1299.0C1905.3 1299.0 1908.7 1299.0 1910.0 1299.0"/>
<path stroke="#1A6FDF" stroke-width="10.0" d="M260.4 1306.2L265.1 1286.8L271.2 1267.9L282.4 1284.1L292.7 1298.6L301.6 1272.3L311.0 1290.0L319.6 1301.8L330.4 1312.1L340.1 1316.9L349.8 1322.8L358.4 1314.8L367.0 1325.5L375.6 1341.2L384.2 1306.2L390.7 1270.6L390.8 1272.0L405.2 1312.9L415.2 1282.1L422.4 1267.7L429.6 1251.9L436.2 1231.8L445.4 1249.0"/>
<path stroke="#37AD6B" d="M260.4 1268.5L264.7 1257.7L269.3 1234.5L276.5 1251.2L287.3 1267.4L298.1 1288.9L307.8 1306.2L315.3 1273.8L322.3 1252.3L330.9 1276.5L337.9 1262.5L344.4 1295.4L349.8 1311.5L356.2 1293.8L363.8 1306.2L371.3 1314.8L379.9 1273.8L388.0 1241.0L387.9 1241.8L396.5 1253.3L403.7 1244.7L410.9 1246.2L418.1 1231.8L425.3 1213.1L433.9 1207.4L442.5 1224.6C442.9 1222.7 444.1 1216.8 444.8 1212.8C445.6 1208.9 446.3 1205.0 446.9 1201.0C447.5 1197.1 448.1 1193.1 448.5 1189.2C449.0 1185.2 449.2 1181.2 449.6 1177.3C449.9 1173.3 450.2 1169.3 450.6 1165.4C450.9 1161.4 451.4 1157.4 451.7 1153.4C452.1 1149.4 452.5 1145.5 452.9 1141.5C453.3 1137.5 453.7 1133.5 454.0 1129.5C454.4 1125.5 454.7 1121.6 455.0 1117.6C455.3 1113.6 455.6 1109.6 455.9 1105.6C456.2 1101.6 456.5 1097.6 456.8 1093.6C457.1 1089.6 457.4 1085.7 457.7 1081.7C458.0 1077.7 458.3 1073.7 458.6 1069.7C458.9 1065.7 459.2 1061.7 459.5 1057.7C459.8 1053.8 460.1 1049.8 460.4 1045.8C460.7 1041.8 461.0 1037.8 461.3 1033.8C461.6 1029.8 461.9 1025.8 462.2 1021.8C462.5 1017.9 462.8 1013.9 463.1 1009.9C463.4 1005.9 463.7 1001.9 464.0 997.9C464.3 993.9 464.6 989.9 464.9 985.9C465.2 982.0 465.5 978.0 465.8 974.0C466.1 970.0 466.4 966.0 466.6 962.0C466.9 958.0 467.3 954.0 467.5 950.0C467.8 946.1 468.1 942.1 468.4 938.1C468.7 934.1 468.9 930.1 469.2 926.1C469.5 922.1 469.7 918.1 470.0 914.1C470.3 910.1 470.5 906.1 470.8 902.2C471.1 898.2 471.3 894.2 471.6 890.2C471.8 886.2 472.1 882.2 472.4 878.2C472.6 874.2 472.9 870.2 473.2 866.2C473.4 862.2 473.7 858.2 473.9 854.3C474.2 850.3 474.5 846.3 474.7 842.3C475.0 838.3 475.3 834.3 475.5 830.3C475.8 826.3 476.0 822.3 476.3 818.3C476.6 814.3 476.8 810.4 477.1 806.4C477.4 802.4 477.6 798.4 477.9 794.4C478.1 790.4 478.4 786.4 478.7 782.4C478.9 778.4 479.2 774.4 479.5 770.4C479.7 766.4 480.0 762.5 480.3 758.5C480.5 754.5 480.8 750.5 481.0 746.5C481.3 742.5 481.6 738.5 481.8 734.5C482.1 730.5 482.4 726.5 482.6 722.5C482.9 718.5 483.1 714.6 483.4 710.6C483.7 706.6 484.0 702.6 484.2 698.6C484.5 694.6 484.8 690.6 485.1 686.6C485.4 682.6 485.7 678.7 486.0 674.7C486.3 670.7 486.6 666.7 486.9 662.7C487.3 658.7 487.6 654.7 487.9 650.7C488.3 646.8 488.6 642.8 489.0 638.8C489.3 634.8 489.7 630.8 490.1 626.8C490.4 622.8 490.8 618.9 491.1 614.9C491.5 610.9 491.8 606.9 492.2 602.9C492.5 598.9 492.9 595.0 493.2 591.0C493.5 587.0 493.9 583.0 494.2 579.0C494.6 575.0 494.9 571.0 495.3 567.1C495.7 563.1 496.2 559.1 496.8 555.2C497.3 551.2 498.0 547.3 498.6 543.3C499.1 539.4 499.6 535.4 500.1 531.4C500.6 527.4 500.9 523.5 501.3 519.5C501.7 515.5 502.1 511.5 502.6 507.5C503.0 503.6 503.5 499.6 503.9 495.6C504.4 491.7 504.9 487.6 505.4 483.7C505.9 479.9 506.5 474.8 506.9 472.2C507.2 469.7 507.2 469.1 507.3 468.5C507.7 466.5 508.8 460.6 509.6 456.7C510.4 452.8 511.2 448.9 512.4 445.1C513.6 441.4 515.1 437.6 517.1 434.2C519.0 430.8 521.5 427.6 524.3 424.9C527.1 422.2 530.6 420.2 534.0 418.1C537.3 416.0 541.1 414.4 544.4 412.2C547.7 410.1 551.0 407.8 553.9 405.1C556.7 402.4 559.2 399.2 561.5 396.0C563.9 392.8 565.9 389.3 568.2 386.0C570.4 382.8 572.6 379.3 575.1 376.3C577.6 373.2 580.4 370.3 583.4 367.8C586.4 365.3 589.9 363.2 593.3 361.3C596.8 359.3 600.7 356.9 604.0 356.2C607.3 355.5 610.7 355.2 613.0 357.0C615.3 358.7 616.5 363.1 617.8 366.6C619.1 370.1 619.8 374.3 620.7 378.2C621.6 382.1 622.4 386.0 623.2 390.0C624.0 393.9 624.8 397.8 625.6 401.7C626.4 405.6 627.3 409.5 628.1 413.4C628.9 417.4 629.8 421.3 630.7 425.2C631.5 429.1 632.4 433.0 633.3 436.9C634.2 440.8 635.1 444.7 636.0 448.6C637.0 452.4 638.0 456.3 639.0 460.2C640.0 464.1 641.1 467.9 642.2 471.7C643.3 475.6 644.6 479.4 645.8 483.2C647.0 487.0 648.3 490.8 649.6 494.6C650.9 498.4 652.2 502.1 653.4 505.9C654.6 509.8 655.7 513.6 656.7 517.5C657.7 521.3 658.6 525.2 659.4 529.1C660.3 533.1 661.0 537.0 661.7 540.9C662.4 544.9 662.9 548.8 663.5 552.8C664.1 556.7 664.7 560.7 665.3 564.7C665.9 568.6 666.5 572.6 667.1 576.5C667.7 580.5 668.3 584.4 668.8 588.4C669.4 592.3 670.0 596.3 670.6 600.3C671.2 604.2 671.8 608.2 672.3 612.1C672.9 616.1 673.4 620.1 673.9 624.0C674.5 628.0 675.0 632.0 675.5 635.9C676.1 639.9 676.6 643.8 677.2 647.8C677.8 651.8 678.4 655.7 679.0 659.7C679.6 663.6 680.2 667.6 680.8 671.5C681.5 675.5 682.1 679.4 682.8 683.4C683.4 687.3 684.1 691.3 684.7 695.2C685.4 699.1 686.1 703.1 686.8 707.0C687.6 710.9 688.4 714.9 689.2 718.8C690.0 722.7 690.8 726.6 691.6 730.5C692.4 734.5 693.2 738.4 694.0 742.3C694.8 746.2 695.6 750.1 696.5 754.0C697.4 757.9 698.4 761.8 699.4 765.7C700.4 769.5 701.5 773.4 702.6 777.2C703.6 781.1 704.7 785.0 705.9 788.8C707.0 792.6 708.3 796.4 709.5 800.2C710.8 804.0 712.1 807.8 713.3 811.6C714.6 815.4 715.9 819.2 717.1 823.0C718.4 826.8 719.7 830.6 720.9 834.3C722.2 838.1 723.5 841.9 724.8 845.7C726.1 849.5 727.5 853.2 728.9 857.0C730.2 860.8 731.6 864.5 733.0 868.3C734.4 872.0 735.9 875.7 737.3 879.5C738.8 883.2 740.3 886.9 741.8 890.6C743.3 894.3 744.7 898.0 746.2 901.7C747.7 905.5 749.2 909.2 750.7 912.9C752.2 916.6 753.8 920.3 755.3 923.9C756.9 927.6 758.5 931.3 760.1 934.9C761.7 938.6 763.4 942.3 765.0 945.9C766.6 949.6 768.2 953.2 769.8 956.9C771.4 960.6 773.0 964.2 774.6 967.9C776.2 971.6 777.8 975.3 779.3 979.0C780.8 982.7 782.1 986.4 783.6 990.2C785.0 993.9 786.5 997.6 788.0 1001.3C789.5 1005.0 791.0 1008.7 792.7 1012.4C794.3 1016.0 795.9 1019.7 797.7 1023.3C799.4 1026.9 801.2 1030.5 803.0 1034.0C804.9 1037.5 806.8 1041.0 808.8 1044.5C810.8 1047.9 812.9 1051.4 815.1 1054.7C817.3 1058.1 819.5 1061.4 821.8 1064.6C824.1 1067.9 826.5 1071.2 828.9 1074.3C831.3 1077.5 833.8 1080.7 836.4 1083.7C838.9 1086.8 841.6 1089.8 844.3 1092.7C847.0 1095.7 849.8 1098.5 852.6 1101.3C855.4 1104.2 858.2 1107.0 861.1 1109.8C864.0 1112.7 868.5 1117.0 870.0 1118.5C872.0 1120.1 878.0 1125.2 882.0 1128.4C886.0 1131.6 890.0 1134.7 894.0 1137.8C898.0 1140.9 902.0 1143.8 906.0 1146.7C910.0 1149.6 914.0 1152.5 918.0 1155.2C922.0 1158.0 926.0 1160.6 930.0 1163.3C934.0 1165.9 938.0 1168.4 942.0 1170.9C946.0 1173.3 950.0 1175.7 954.0 1178.1C958.0 1180.4 962.0 1182.7 966.0 1184.9C970.0 1187.1 974.0 1189.3 978.0 1191.4C982.0 1193.5 986.0 1195.5 990.0 1197.5C994.0 1199.5 998.0 1201.4 1002.0 1203.3C1006.0 1205.1 1010.0 1207.0 1014.0 1208.7C1018.0 1210.5 1022.0 1212.2 1026.0 1213.9C1030.0 1215.6 1034.0 1217.2 1038.0 1218.8C1042.0 1220.4 1046.0 1222.0 1050.0 1223.5C1054.0 1225.0 1058.0 1226.4 1062.0 1227.9C1066.0 1229.3 1070.0 1230.7 1074.0 1232.1C1078.0 1233.4 1082.0 1234.8 1086.0 1236.1C1090.0 1237.4 1094.0 1238.6 1098.0 1239.8C1102.0 1241.1 1106.0 1242.3 1110.0 1243.4C1114.0 1244.6 1118.0 1245.7 1122.0 1246.8C1126.0 1247.9 1130.0 1249.0 1134.0 1250.0C1138.0 1251.0 1142.0 1252.0 1146.0 1253.0C1150.0 1254.0 1154.0 1254.9 1158.0 1255.8C1162.0 1256.8 1166.0 1257.6 1170.0 1258.5C1174.0 1259.4 1178.0 1260.2 1182.0 1261.0C1186.0 1261.8 1190.0 1262.6 1194.0 1263.4C1198.0 1264.1 1202.0 1264.8 1206.0 1265.6C1210.0 1266.3 1214.0 1266.9 1218.0 1267.6C1222.0 1268.3 1226.0 1268.9 1230.0 1269.5C1234.0 1270.1 1238.0 1270.7 1242.0 1271.3C1246.0 1271.9 1250.0 1272.4 1254.0 1272.9C1258.0 1273.5 1262.0 1274.0 1266.0 1274.5C1270.0 1275.0 1274.0 1275.4 1278.0 1275.9C1282.0 1276.4 1286.0 1276.8 1290.0 1277.2C1294.0 1277.6 1298.0 1278.0 1302.0 1278.4C1306.0 1278.8 1310.0 1279.2 1314.0 1279.5C1318.0 1279.9 1322.0 1280.2 1326.0 1280.6C1330.0 1280.9 1334.0 1281.2 1338.0 1281.5C1342.0 1281.8 1346.0 1282.1 1350.0 1282.4C1354.0 1282.7 1358.0 1282.9 1362.0 1283.2C1366.0 1283.4 1370.0 1283.7 1374.0 1283.9C1378.0 1284.1 1382.0 1284.4 1386.0 1284.6C1390.0 1284.8 1394.0 1285.0 1398.0 1285.2C1402.0 1285.4 1406.0 1285.6 1410.0 1285.8C1414.0 1286.0 1418.0 1286.1 1422.0 1286.3C1426.0 1286.5 1430.0 1286.6 1434.0 1286.8C1438.0 1287.0 1442.0 1287.1 1446.0 1287.3C1450.0 1287.4 1454.0 1287.6 1458.0 1287.7C1462.0 1287.9 1466.0 1288.0 1470.0 1288.2C1474.0 1288.3 1478.0 1288.5 1482.0 1288.6C1486.0 1288.7 1490.0 1288.9 1494.0 1289.0C1498.0 1289.2 1502.0 1289.3 1506.0 1289.5C1510.0 1289.6 1514.0 1289.8 1518.0 1289.9C1522.0 1290.0 1526.0 1290.2 1530.0 1290.3C1534.0 1290.5 1538.0 1290.6 1542.0 1290.8C1546.0 1290.9 1550.0 1291.1 1554.0 1291.2C1558.0 1291.4 1562.0 1291.5 1566.0 1291.7C1570.0 1291.8 1574.0 1292.0 1578.0 1292.1C1582.0 1292.3 1586.0 1292.4 1590.0 1292.6C1594.0 1292.7 1598.0 1292.9 1602.0 1293.0C1606.0 1293.2 1610.0 1293.3 1614.0 1293.5C1618.0 1293.6 1622.0 1293.8 1626.0 1293.9C1630.0 1294.1 1634.0 1294.2 1638.0 1294.3C1642.0 1294.5 1646.0 1294.6 1650.0 1294.8C1654.0 1294.9 1658.0 1295.1 1662.0 1295.2C1666.0 1295.3 1670.0 1295.5 1674.0 1295.6C1678.0 1295.7 1682.0 1295.9 1686.0 1296.0C1690.0 1296.1 1694.0 1296.3 1698.0 1296.4C1702.0 1296.5 1706.0 1296.7 1710.0 1296.8C1714.0 1296.9 1718.0 1297.0 1722.0 1297.2C1726.0 1297.3 1730.0 1297.4 1734.0 1297.5C1738.0 1297.6 1742.0 1297.7 1746.0 1297.9C1750.0 1298.0 1754.0 1298.1 1758.0 1298.2C1762.0 1298.3 1766.0 1298.4 1770.0 1298.5C1774.0 1298.6 1778.0 1298.7 1782.0 1298.8C1786.0 1298.9 1790.0 1299.0 1794.0 1299.0C1798.0 1299.1 1802.0 1299.2 1806.0 1299.3C1810.0 1299.4 1814.0 1299.4 1818.0 1299.5C1822.0 1299.6 1826.0 1299.7 1830.0 1299.7C1834.0 1299.8 1838.0 1299.8 1842.0 1299.9C1846.0 1300.0 1850.0 1300.0 1854.0 1300.1C1858.0 1300.1 1862.0 1300.1 1866.0 1300.2C1870.0 1300.2 1874.0 1300.3 1878.0 1300.3C1882.0 1300.3 1886.0 1300.3 1890.0 1300.4C1894.0 1300.4 1898.7 1300.4 1902.0 1300.4C1905.3 1300.4 1908.7 1300.4 1910.0 1300.4"/>
<path stroke="#37AD6B" stroke-width="10.0" d="M260.4 1268.5L264.7 1257.7L269.3 1234.5L276.5 1251.2L287.3 1267.4L298.1 1288.9L307.8 1306.2L315.3 1273.8L322.3 1252.3L330.9 1276.5L337.9 1262.5L344.4 1295.4L349.8 1311.5L356.2 1293.8L363.8 1306.2L371.3 1314.8L379.9 1273.8L388.0 1241.0L387.9 1241.8L396.5 1253.3L403.7 1244.7L410.9 1246.2L418.1 1231.8L425.3 1213.1L433.9 1207.4L442.5 1224.6"/>
</g>
<text transform="translate(215.5 1332.6) scale(1 1.060)" font-size="68.5" text-anchor="end">0.0</text>
<text transform="translate(215.5 1128.8) scale(1 1.060)" font-size="68.5" text-anchor="end">0.2</text>
<text transform="translate(215.5 924.9) scale(1 1.060)" font-size="68.5" text-anchor="end">0.4</text>
<text transform="translate(215.5 721.1) scale(1 1.060)" font-size="68.5" text-anchor="end">0.6</text>
<text transform="translate(215.5 517.3) scale(1 1.060)" font-size="68.5" text-anchor="end">0.8</text>
<text transform="translate(215.5 313.4) scale(1 1.060)" font-size="68.5" text-anchor="end">1.0</text>
<text transform="translate(215.5 109.6) scale(1 1.060)" font-size="68.5" text-anchor="end">1.2</text>
<text transform="translate(261.0 1513.3) scale(1 1.060)" font-size="68.5" text-anchor="middle">200</text>
<text transform="translate(672.5 1513.3) scale(1 1.060)" font-size="68.5" text-anchor="middle">300</text>
<text transform="translate(1083.9 1513.3) scale(1 1.060)" font-size="68.5" text-anchor="middle">400</text>
<text transform="translate(1495.3 1513.3) scale(1 1.060)" font-size="68.5" text-anchor="middle">500</text>
<text transform="translate(1906.8 1513.3) scale(1 1.060)" font-size="68.5" text-anchor="middle">600</text>
<text transform="translate(1085.3 1629.2) scale(1 1.020)" font-size="69" text-anchor="middle">Wavelength (nm)</text>
<text transform="translate(94.5 749.5) rotate(-90) scale(1 1.020)" font-size="69" text-anchor="middle">Normalized Absorbance (a.u.)</text>
<g stroke-width="10" stroke-linecap="round" fill="none">
<line x1="1182" y1="219.7" x2="1340" y2="219.7" stroke="#515151"/>
<line x1="1182" y1="306.5" x2="1340" y2="306.5" stroke="#F14040"/>
<line x1="1182" y1="393.4" x2="1340" y2="393.4" stroke="#1A6FDF"/>
<line x1="1182" y1="480.6" x2="1340" y2="480.6" stroke="#37AD6B"/>
</g>
<text transform="translate(1357.3 242.8) scale(1 1.025)" font-size="69" text-anchor="start">D230-PyAL</text>
<text transform="translate(1357.3 329.6) scale(1 1.025)" font-size="69" text-anchor="start">D230-PyAL-Ni</text>
<text transform="translate(1357.3 416.5) scale(1 1.025)" font-size="69" text-anchor="start">D230-PyAL-Cu</text>
<text transform="translate(1357.3 503.7) scale(1 1.025)" font-size="69" text-anchor="start">D230-PyAL-Sm</text>
</svg></body></html>
